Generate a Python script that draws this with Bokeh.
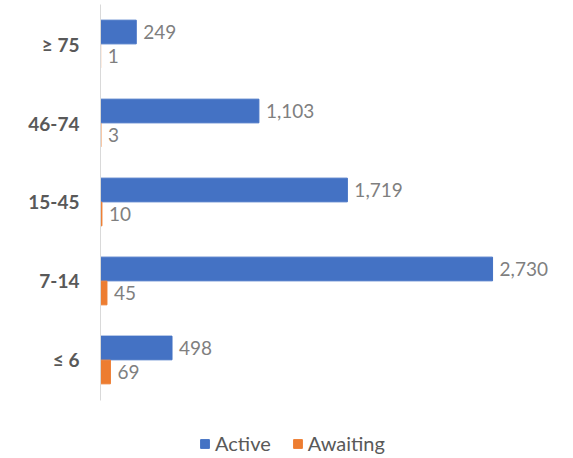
from bokeh.plotting import figure
from bokeh.models import ColumnDataSource, Range1d, FixedTicker, Legend, LegendItem
from bokeh.transform import dodge
from bokeh.core.properties import value
from bokeh.embed import file_html
from bokeh.resources import INLINE

categories = ["≥ 75", "46-74", "15-45", "7-14", "≤ 6"]
active = [249, 1103, 1719, 2730, 498]
awaiting = [1, 3, 10, 45, 69]

n = len(categories)
pos = [n - 1 - i for i in range(n)]

src = ColumnDataSource(dict(
    y=pos, cat=categories, active=active, awaiting=awaiting,
    active_lbl=[f"{v:,}" for v in active],
    awaiting_lbl=[f"{v:,}" for v in awaiting],
))

FONT = "Lato"
p = figure(width=565, height=456, output_backend="svg", toolbar_location=None,
           x_range=Range1d(0, 3238), y_range=Range1d(-1.222, 4.551),
           min_border_left=100, min_border_right=0, min_border_top=0,
           min_border_bottom=0)
p.outline_line_color = None
p.xgrid.visible = False
p.ygrid.visible = False
p.xaxis.visible = False

ya = p.yaxis[0]
ya.ticker = FixedTicker(ticks=pos)
ya.major_label_overrides = {pp: c for pp, c in zip(pos, categories)}
ya.bounds = (-0.513, 4.5)
ya.axis_line_color = "#D9D9D9"
ya.axis_line_width = 1
ya.major_tick_line_color = None
ya.minor_tick_line_color = None
ya.major_tick_out = 0
ya.major_tick_in = 0
ya.major_label_text_font = FONT
ya.major_label_text_font_style = "bold"
ya.major_label_text_font_size = "19px"
ya.major_label_text_color = "#595959"
ya.major_label_standoff = 21

r1 = p.hbar(y=dodge("y", 0.152), right="active", left=0, height=0.3,
            source=src, color="#4472C4")
r2 = p.hbar(y=dodge("y", -0.152), right="awaiting", left=0, height=0.3,
            source=src, color="#ED7D31")

p.text(x="active", y=dodge("y", 0.152), text="active_lbl", source=src,
       x_offset=7, text_baseline="middle", text_align="left",
       text_font=value(FONT), text_font_size="19px", text_color="#7F7F7F")
p.text(x="awaiting", y=dodge("y", -0.152), text="awaiting_lbl", source=src,
       x_offset=7, text_baseline="middle", text_align="left",
       text_font=value(FONT), text_font_size="19px", text_color="#7F7F7F")

legend = Legend(items=[LegendItem(label="Active", renderers=[r1]),
                       LegendItem(label="Awaiting", renderers=[r2])],
                orientation="horizontal", location=(99, 1),
                label_text_font=FONT, label_text_font_size="20px",
                label_text_color="#595959", glyph_width=11, glyph_height=11,
                spacing=21, border_line_color=None, background_fill_alpha=0,
                padding=0, margin=0, label_standoff=5)
p.add_layout(legend)

open("out.html", "w").write(file_html(p, INLINE))
